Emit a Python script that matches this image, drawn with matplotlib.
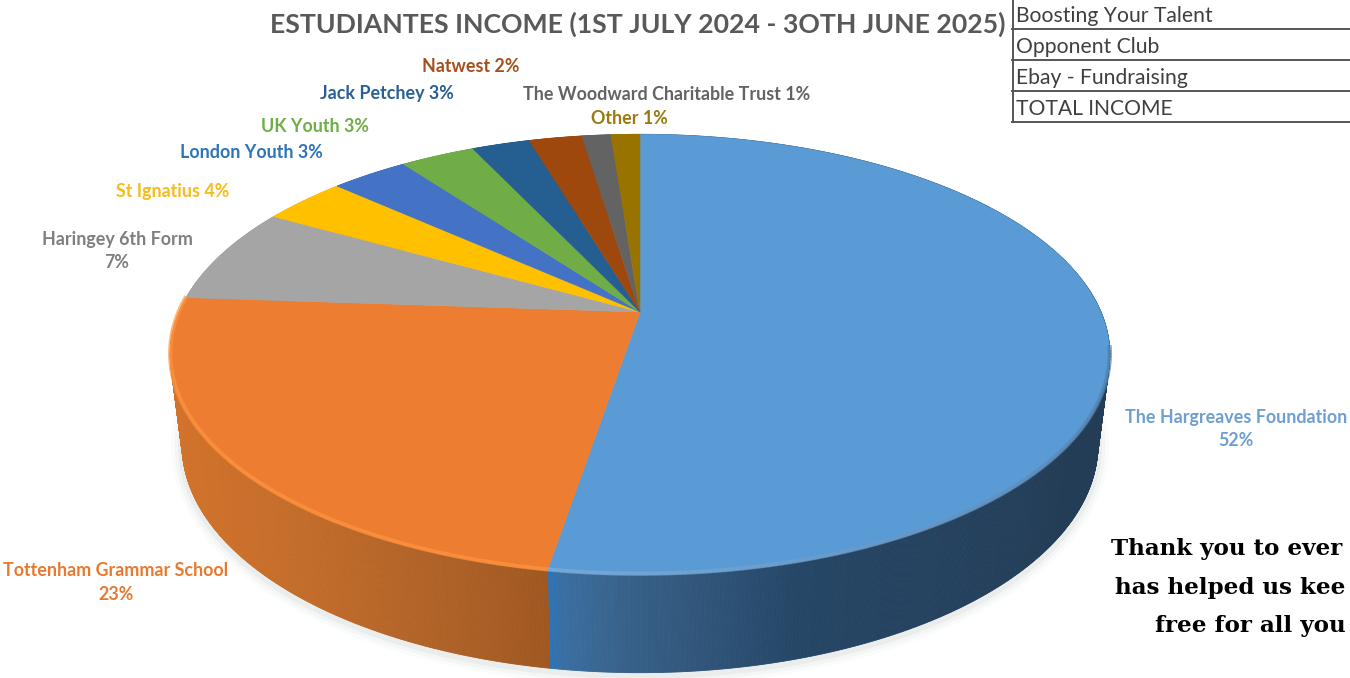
import numpy as np
import matplotlib
matplotlib.use("Agg")
import matplotlib.pyplot as plt
from matplotlib.patches import Polygon

# --- data ---
names = ["The Hargreaves Foundation", "Tottenham Grammar School", "Haringey 6th Form", "St Ignatius",
         "London Youth", "UK Youth", "Jack Petchey", "Natwest", "The Woodward Charitable Trust", "Other"]
shares = [52.6, 23.5, 7.1, 3.5, 3.2, 3.1, 2.4, 2.2, 1.2, 1.2]
shown_pct = [52, 23, 7, 4, 3, 3, 3, 2, 1, 1]
table_rows = ["Boosting Your Talent", "Opponent Club", "Ebay - Fundraising", "TOTAL INCOME"]
title = "ESTUDIANTES INCOME (1ST JULY 2024 - 3OTH JUNE 2025)"
thanks = ["Thank you to ever", "has helped us kee", "free for all you"]

# --- style ---
colors = ["#5B9BD5", "#ED7D31", "#A5A5A5", "#FFC000", "#4472C4", "#70AD47", "#255E91", "#9E480E", "#636363", "#997300"]
label_colors = ["#6E9FD0", "#E8792F", "#7F7F7F", "#F5BC1C", "#2E74B8", "#6FAE47", "#2A5F96", "#A5501C", "#636363", "#9A7A10"]
label_pos = [(1236, 417, 441), (116, 571, 594), (117, 240, 263), (173, 191, None), (251, 152, None),
             (315, 126, None), (387, 93, None), (471, 67, None), (667, 95, None), (629, 118, None)]
two_lines = [True, True, True] + [False] * 7

CX, APEX_Y, KP, RX, RY = 640.0, 312.0, 0.193, 461.0, 212.0
TOP_CY, TOP_RX, TOP_RY = 354.5, 470.0, 220.5
BOT_CY, BOT_RX, BOT_RY = 445.0, 458.0, 228.0

side_ramps = {
    0: ([547, 566, 620, 800, 1110], ["#2F74B4", "#3A6E9F", "#38628A", "#254666", "#243C55"]),
    1: ([170, 300, 450, 547], ["#D2732C", "#C36C2A", "#AD6127", "#A05820"]),
}


def project(theta):
    u, v = np.sin(theta), np.cos(theta)
    s = 1.0 / (1.0 + KP * v)
    return CX + RX * u * s, APEX_Y - RY * v * s


def lower(x, y):
    return CX + (x - CX) * BOT_RX / TOP_RX, BOT_CY + (y - TOP_CY) * BOT_RY / TOP_RY


def ramp(ramp_def, x):
    xs, cols = ramp_def
    rgb = np.array([matplotlib.colors.to_rgb(c) for c in cols])
    return tuple(np.interp(x, xs, rgb[:, i]) for i in range(3))


fig = plt.figure(figsize=(13.5, 6.78), dpi=100)
ax = fig.add_axes([0, 0, 1, 1])
ax.set_xlim(0, 1350)
ax.set_ylim(678, 0)
ax.axis("off")

fractions = np.array(shares) / np.sum(shares)
edges = np.concatenate([[0], np.cumsum(fractions)]) * 2 * np.pi

# soft shadow round the body
t = np.linspace(np.pi * 0.42, np.pi * 1.58, 300)
sx, sy = lower(*project(t))
for lw, a in zip([16, 11, 6], [0.025, 0.035, 0.05]):
    ax.plot(sx, sy + 2, color="#505A64", lw=lw, alpha=a, solid_capstyle="round", zorder=1)

# side wall
for i, (a, b) in enumerate(zip(edges[:-1], edges[1:])):
    n = max(2, int((b - a) * 220))
    ts = np.linspace(a, b, n + 1)
    xt, yt = project(ts)
    xb, yb = lower(xt, yt)
    for j in range(n):
        col = ramp(side_ramps[i], 0.5 * (xt[j] + xt[j + 1])) if i in side_ramps else matplotlib.colors.to_rgb(colors[i])
        ax.add_patch(Polygon([(xt[j], yt[j]), (xt[j + 1], yt[j + 1]), (xb[j + 1], yb[j + 1]), (xb[j], yb[j])],
                             closed=True, fc=col, ec=col, lw=0.6, zorder=2))

# top face
for i, (a, b) in enumerate(zip(edges[:-1], edges[1:])):
    ts = np.linspace(a, b, max(3, int((b - a) * 120)))
    xt, yt = project(ts)
    ax.add_patch(Polygon(np.column_stack([np.r_[CX, xt], np.r_[APEX_Y, yt]]), closed=True,
                         fc=colors[i], ec=colors[i], lw=0.4, zorder=3))

# bevel along the rim: front part of the blue slice and the orange slice
ts = np.linspace(np.pi * 0.55, edges[1], 240)
xt, yt = project(ts)
for j in range(len(ts) - 1):
    f = (ts[j] - ts[0]) / (ts[-1] - ts[0])
    col = np.array([0.30, 0.47, 0.64]) * (1 - f) + np.array([0.50, 0.68, 0.86]) * f
    ax.plot(xt[j:j + 2], yt[j:j + 2] - 1, color=col, lw=3, alpha=0.75, zorder=4, solid_capstyle="butt")
ts = np.linspace(edges[1], edges[2], 200)
xt, yt = project(ts)
ax.plot(xt, yt - 1, color="#FF9540", lw=3, alpha=0.7, zorder=4, solid_capstyle="butt")

# labels
FONT = "Lato"
LABEL_SIZE = 12.9
for i, nm in enumerate(names):
    x, y1, y2 = label_pos[i]
    if two_lines[i]:
        ax.text(x, y1, nm, color=label_colors[i], fontsize=LABEL_SIZE, family=FONT, weight="bold", ha="center", va="center", zorder=5)
        ax.text(x, y2, f"{shown_pct[i]}%", color=label_colors[i], fontsize=LABEL_SIZE, family=FONT, weight="bold", ha="center", va="center", zorder=5)
    else:
        ax.text(x, y1, f"{nm} {shown_pct[i]}%", color=label_colors[i], fontsize=LABEL_SIZE, family=FONT, weight="bold", ha="center", va="center", zorder=5)

ax.text(638, 24, title, color="#595959", fontsize=19.2, family=FONT, weight="bold", ha="center", va="center", zorder=5)

# table fragment
line_col = "#555555"
row_y = [28.5, 60, 91, 122]
text_y = [15.5, 47, 78, 109]
ax.plot([1012.5, 1012.5], [0, 122], color=line_col, lw=1.4, zorder=5)
for y, ty, row in zip(row_y, text_y, table_rows):
    ax.plot([1012, 1350], [y, y], color=line_col, lw=1.4, zorder=5)
    ax.text(1016, ty, row, color="#3F3F3F", fontsize=15.2, family=FONT, ha="left", va="center", zorder=5)

# thank-you note, as much of it as the picture shows
for x, y, line in zip([1111, 1115, 1155], [549, 588, 626], thanks):
    ax.text(x, y, line, color="black", fontsize=16.6, family="DejaVu Serif", weight="bold", ha="left", va="center",
            zorder=5)

fig.savefig("out.png", dpi=100, facecolor="white")
